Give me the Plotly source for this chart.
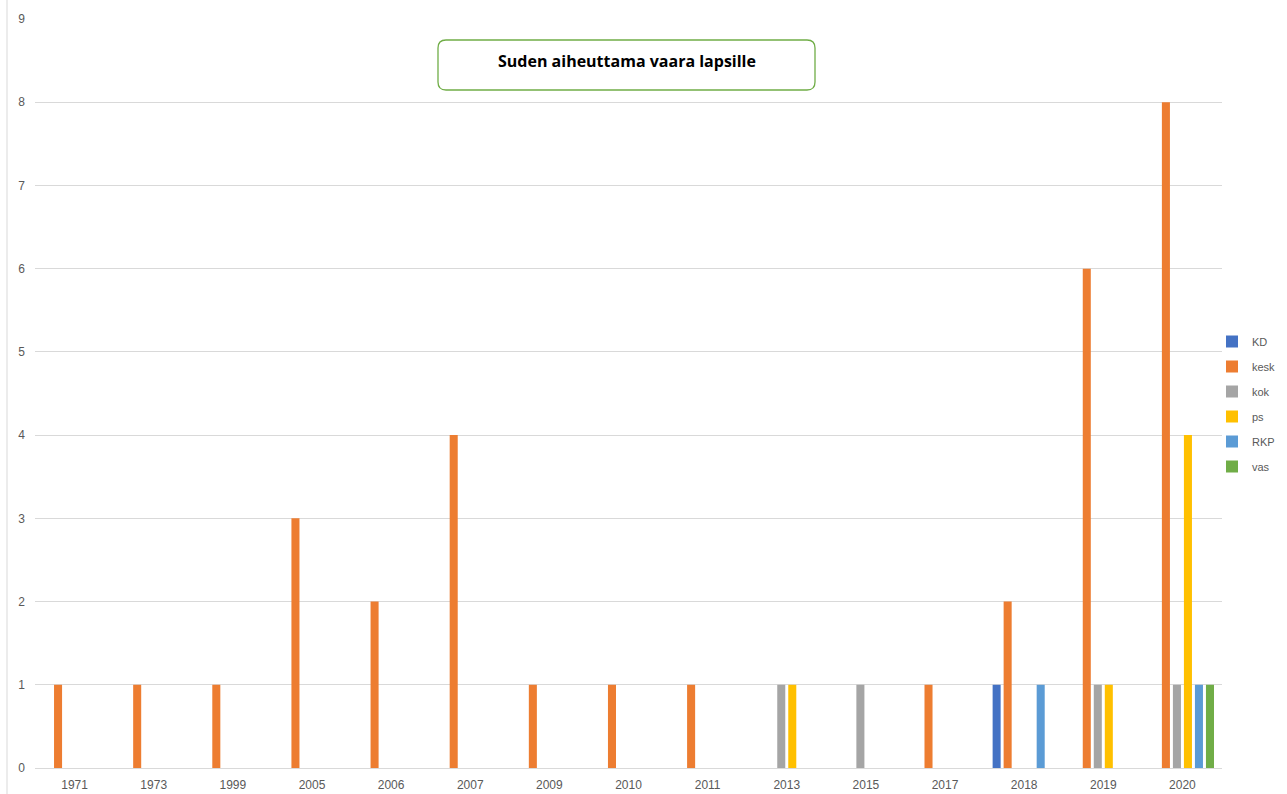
import plotly.graph_objects as go

years = ["1971", "1973", "1999", "2005", "2006", "2007", "2009", "2010",
         "2011", "2013", "2015", "2017", "2018", "2019", "2020"]
KD   = [None, None, None, None, None, None, None, None, None, None, None, None, 1, None, None]
kesk = [1, 1, 1, 3, 2, 4, 1, 1, 1, None, None, 1, 2, 6, 8]
kok  = [None, None, None, None, None, None, None, None, None, 1, 1, None, None, 1, 1]
ps   = [None, None, None, None, None, None, None, None, None, 1, None, None, None, 1, 4]
RKP  = [None, None, None, None, None, None, None, None, None, None, None, None, 1, None, 1]
vas  = [None, None, None, None, None, None, None, None, None, None, None, None, None, None, 1]

series = [("KD", KD, "#4472C4"), ("kesk", kesk, "#ED7D31"), ("kok", kok, "#A5A5A5"),
          ("ps", ps, "#FFC000"), ("RKP", RKP, "#5B9BD5"), ("vas", vas, "#70AD47")]

W, H = 1287, 794
L, R, T, B = 35, 65, 19, 26
pw, ph = W - L - R, H - T - B

def px(x):
    return (x - L) / pw

def py(y):
    return (H - B - y) / ph

fig = go.Figure()
for name, vals, col in series:
    fig.add_trace(go.Bar(x=years, y=vals, name=name, marker_color=col,
                         marker_line_width=0, legendgroup=name))

# rounded title box
x0, x1, y0, y1, r = 438, 815, 40, 90, 8
def P(x, y):
    return f"{px(x):.5f},{py(y):.5f}"
path = (f"M {P(x0 + r, y0)} L {P(x1 - r, y0)} Q {P(x1, y0)} {P(x1, y0 + r)} "
        f"L {P(x1, y1 - r)} Q {P(x1, y1)} {P(x1 - r, y1)} L {P(x0 + r, y1)} "
        f"Q {P(x0, y1)} {P(x0, y1 - r)} L {P(x0, y0 + r)} Q {P(x0, y0)} {P(x0 + r, y0)} Z")
fig.add_shape(type="path", xref="paper", yref="paper", path=path,
              line=dict(color="#70AD47", width=1.3), fillcolor="white", layer="above")
fig.add_annotation(xref="paper", yref="paper", x=px((x0 + x1) / 2), y=py(61),
                   xanchor="center", yanchor="middle",
                   text="<b>Suden aiheuttama vaara lapsille</b>", showarrow=False,
                   font=dict(family="Open Sans, Liberation Sans, sans-serif", size=16, color="#000000"))
# left border line
fig.add_shape(type="line", xref="paper", yref="paper", x0=px(7), x1=px(7), y0=py(0), y1=py(794),
              line=dict(color="#D9D9D9", width=1))

fig.update_layout(
    width=W, height=H,
    margin=dict(l=L, r=R, t=T, b=B, autoexpand=False),
    paper_bgcolor="white", plot_bgcolor="white",
    barmode="group", bargap=0.165, bargroupgap=0.27,
    font=dict(family="Liberation Sans, Arial, sans-serif", size=12, color="#595959"),
    showlegend=True,
    legend=dict(x=px(1212), y=py(404), xanchor="left", yanchor="middle",
                font=dict(size=11, color="#595959"), tracegroupgap=6,
                itemwidth=30, bgcolor="rgba(0,0,0,0)"),
    xaxis=dict(type="category", showgrid=False, showline=False, ticks="",
               ticklabelstandoff=8, tickfont=dict(size=12, color="#595959")),
    yaxis=dict(range=[0, 9], dtick=1, showgrid=True, gridcolor="#D9D9D9", gridwidth=1,
               zeroline=True, zerolinecolor="#D9D9D9", zerolinewidth=1, ticks="",
               ticklabelstandoff=9, tickfont=dict(size=12, color="#595959")),
)

fig.write_html("out.html", post_script="document.body.style.margin='0';",
               config={"displayModeBar": False})
